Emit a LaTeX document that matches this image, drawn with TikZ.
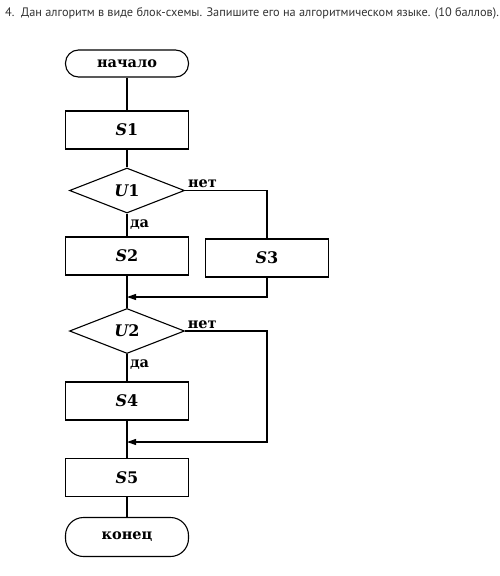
\documentclass[tikz,border=0pt]{standalone}
\usepackage{fontspec}
\setsansfont{PT Sans}
\newfontfamily\chartfont{DejaVu Serif}
\usetikzlibrary{arrows.meta}
\usetikzlibrary{shapes.geometric}

\tikzset{
  term/.style={rectangle,rounded corners=13pt,draw,line width=1.1pt,minimum width=123pt,minimum height=27pt,font=\chartfont\bfseries\fontsize{14.5}{16}\selectfont},
  stepbox/.style={rectangle,draw,line width=1.1pt,minimum width=123pt,minimum height=38pt,font=\chartfont\bfseries\fontsize{16}{18}\selectfont},
  cond/.style={diamond,draw,line width=1.1pt,inner sep=0pt,minimum width=115pt,minimum height=45pt,font=\chartfont\bfseries\fontsize{16}{18}\selectfont},
  flow/.style={line width=1.1pt},
  lbl/.style={font=\chartfont\bfseries\fontsize{14.5}{16}\selectfont,inner sep=2.5pt}
}

\begin{document}
\begin{tikzpicture}[x=1pt,y=-1pt]
\useasboundingbox (0,0) rectangle (500,576);
\path (5, 13) node[anchor=west,inner sep=0pt,text=black!80,font=\sffamily\fontsize{12.3}{14}\selectfont] (title) {4.\ \ Дан алгоритм в виде блок-схемы. Запишите его на алгоритмическом языке. (10 баллов).};
\path (127, 63.5) node[term] (start) {начало};
\path (127, 130) node[stepbox] (s1) {{\itshape S}1};
\path (127, 190.5) node[cond] (u1) {{\itshape U}1};
\path (127, 256) node[stepbox] (s2) {{\itshape S}2};
\path (267, 258) node[stepbox] (s3) {{\itshape S}3};
\path (127, 297) coordinate (m1);
\path (127, 331) node[cond] (u2) {{\itshape U}2};
\path (127, 401) node[stepbox] (s4) {{\itshape S}4};
\path (267, 442) coordinate (r2);
\path (127, 442) coordinate (m2);
\path (127, 477.5) node[stepbox] (s5) {{\itshape S}5};
\path (127, 537) node[term,minimum height=39pt,rounded corners=18pt] (stop) {конец};

\draw[flow] (start) -- (s1);
\draw[flow] (s1) -- (u1);
\draw[flow] (u1.south) -- (s2.north)
       node[pos=0,anchor=north west,lbl,yshift=-3pt] {да};
\draw[flow] (u1.east) -| (s3.north)
       node[pos=0,anchor=south west,lbl] {нет};
\draw[flow] (s2) -- (u2);
\draw[flow,-{Triangle[length=9pt,width=6pt]}] (s3.south) |- (m1);
\draw[flow] (u2.south) -- (s4.north)
       node[pos=0,anchor=north west,lbl,yshift=-3pt] {да};
\draw[flow,-{Triangle[length=9pt,width=6pt]}] (u2.east) -| (r2) -- (m2);
\path (u2.east) node[anchor=south west,lbl] {нет};
\draw[flow] (s4) -- (s5);
\draw[flow] (s5) -- (stop);
\end{tikzpicture}
\end{document}
